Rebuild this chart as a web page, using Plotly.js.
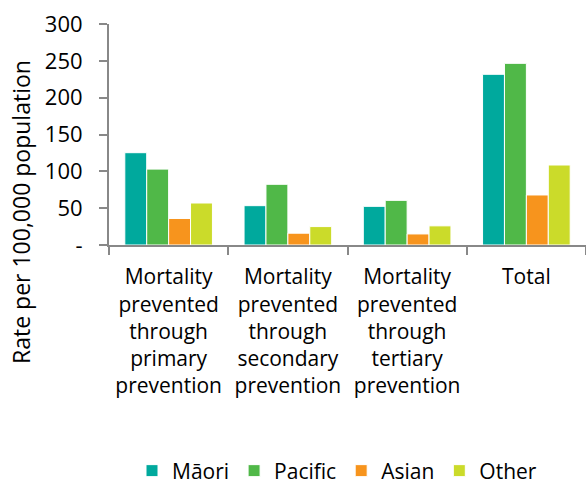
<!DOCTYPE html>
<html>
<head>
<meta charset="utf-8">
<script src="https://cdn.plot.ly/plotly-3.0.1.min.js"></script>
<style>html,body{margin:0;padding:0;background:#fff;}#chart{width:586px;height:487px;}</style>
</head>
<body>
<div id="chart"></div>
<script>
const categories = ["Primary", "Secondary", "Tertiary", "Total"];
const categoryLabels = [
  "Mortality<br>prevented<br>through<br>primary<br>prevention",
  "Mortality<br>prevented<br>through<br>secondary<br>prevention",
  "Mortality<br>prevented<br>through<br>tertiary<br>prevention",
  "Total"
];
const seriesNames = ["Māori", "Pacific", "Asian", "Other"];
const maoriValues   = [125.3, 53.4, 52.5, 231.7];
const pacificValues = [103.0, 82.4, 60.6, 246.6];
const asianValues   = [36.0, 16.0, 15.0, 67.9];
const otherValues   = [57.0, 25.0, 26.0, 108.6];
const yTickVals  = [0, 50, 100, 150, 200, 250, 300];
const yTickText  = ["-", "50", "100", "150", "200", "250", "300"];
const colors = ["#00A99D", "#50B848", "#F7941D", "#CBDB2A"];
const values = [maoriValues, pacificValues, asianValues, otherValues];

const FONT = "Open Sans, Noto Sans, sans-serif";
const traces = seriesNames.map((n, i) => ({
  type: "bar",
  name: n,
  x: categories,
  y: values[i],
  marker: {color: colors[i], line: {color: "#ffffff", width: 1}},
  hoverinfo: "skip"
}));

const layout = {
  width: 586, height: 487,
  margin: {l: 109, r: 0, t: 24, b: 242, autoexpand: false},
  paper_bgcolor: "#ffffff", plot_bgcolor: "#ffffff",
  font: {family: FONT, size: 20, color: "#000000"},
  barmode: "group",
  bargap: 0.265,
  bargroupgap: 0,
  showlegend: true,
  legend: {orientation: "h", xref: "paper", yref: "container",
           x: 0.478, xanchor: "center", y: 0.075, yanchor: "top",
           font: {family: FONT, size: 21, color: "#000"}, itemwidth: 30, tracegroupgap: 0},
  xaxis: {
    type: "category",
    tickmode: "array", tickvals: categories, ticktext: categoryLabels,
    tickson: "boundaries", ticks: "outside", ticklen: 8, tickwidth: 2, tickcolor: "#888888",
    showline: true, linecolor: "#888888", linewidth: 2,
    showgrid: false, zeroline: false,
    ticklabelstandoff: 12,
    tickfont: {family: FONT, size: 21, color: "#000"},
    fixedrange: true
  },
  yaxis: {
    range: [0, 300],
    tickmode: "array", tickvals: yTickVals, ticktext: yTickText,
    ticks: "outside", ticklen: 8, tickwidth: 2, tickcolor: "#888888",
    showline: true, linecolor: "#888888", linewidth: 2,
    showgrid: false, zeroline: false,
    ticklabelstandoff: 12,
    tickfont: {family: FONT, size: 22, color: "#000"},
    fixedrange: true
  },
  annotations: [{
    text: "Rate per 100,000 population",
    textangle: -90,
    xref: "paper", yref: "paper",
    x: (21 - 109) / 477, y: (245 - 212) / 221,
    xanchor: "center", yanchor: "middle",
    showarrow: false,
    font: {family: FONT, size: 23, color: "#000"}
  }]
};

Plotly.newPlot("chart", traces, layout, {displayModeBar: false, staticPlot: true});
</script>
</body>
</html>
